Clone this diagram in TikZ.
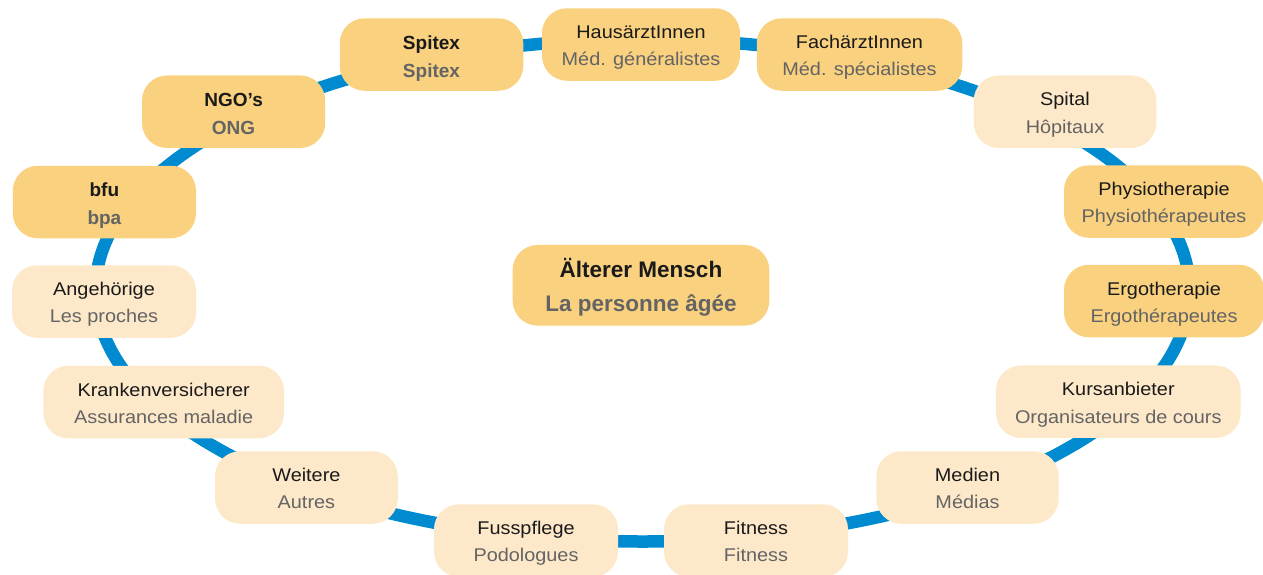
\documentclass[tikz,border=0pt]{standalone}
\usepackage{fontspec}
\setmainfont{Liberation Sans}
\newfontfamily\regf[FakeStretch=1.08]{Liberation Sans}
\usetikzlibrary{shapes.geometric}
\definecolor{ringblue}{RGB}{0,139,208}
\definecolor{darkfill}{RGB}{249,209,127}
\definecolor{lightfill}{RGB}{253,233,201}
\definecolor{txtone}{RGB}{26,26,26}
\definecolor{txttwo}{RGB}{100,100,100}
\tikzset{
  ringstyle/.style={ellipse, draw=ringblue, line width=12.5pt, inner sep=0pt, minimum width=1094pt, minimum height=502pt},
  boxbase/.style={rounded corners=25pt, inner sep=0pt, minimum height=72.5pt},
  darkbox/.style={boxbase, fill=darkfill},
  lightbox/.style={boxbase, fill=lightfill},
  regA/.style={anchor=base, inner sep=0pt, yshift=5.8pt, text=txtone, font=\regf\fontsize{18.4}{20}\selectfont},
  regB/.style={anchor=base, inner sep=0pt, yshift=-21.4pt, text=txttwo, font=\regf\fontsize{18.4}{20}\selectfont},
  boldA/.style={anchor=base, inner sep=0pt, yshift=5.2pt, text=txtone, font=\bfseries\fontsize{19}{21}\selectfont},
  boldB/.style={anchor=base, inner sep=0pt, yshift=-22.8pt, text=txttwo, font=\bfseries\fontsize{19}{21}\selectfont},
  mainA/.style={anchor=base, inner sep=0pt, yshift=7.6pt, text=txtone, font=\bfseries\fontsize{22.5}{25}\selectfont},
  mainB/.style={anchor=base, inner sep=0pt, yshift=-26.4pt, text=txttwo, font=\bfseries\fontsize{22.5}{25}\selectfont},
}
\newcommand\entry[8]{%
  \node[#5, minimum width=#4pt] (#1) at (#2,-#3) {};
  \node[#6A] (#1-a) at (#1.center) {#7};
  \node[#6B] (#1-b) at (#1.center) {#8};
}
\begin{document}
\begin{tikzpicture}[x=1pt,y=1pt]
\useasboundingbox (0,0) rectangle (1263,-574);
\node[ringstyle] (ring) at (642.5,-290.5) {};
\entry{spitex}{431.5}{54.5}{183.5}{darkbox}{bold}{Spitex}{Spitex}
\entry{haus}{641}{44.5}{198}{darkbox}{reg}{HausärztInnen}{Méd. généralistes}
\entry{fach}{859.5}{54.5}{205.5}{darkbox}{reg}{FachärztInnen}{Méd. spécialistes}
\entry{spital}{1065}{111.7}{182.5}{lightbox}{reg}{Spital}{Hôpitaux}
\entry{physio}{1164}{201.5}{200}{darkbox}{reg}{Physiotherapie}{Physiothérapeutes}
\entry{ergo}{1164}{301}{200}{darkbox}{reg}{Ergotherapie}{Ergothérapeutes}
\entry{kurs}{1118.3}{401.7}{244.7}{lightbox}{reg}{Kursanbieter}{Organisateurs de cours}
\entry{medien}{967.5}{487.5}{182.4}{lightbox}{reg}{Medien}{Médias}
\entry{fitness}{756}{540.5}{184}{lightbox}{reg}{Fitness}{Fitness}
\entry{fuss}{526}{540.5}{184}{lightbox}{reg}{Fusspflege}{Podologues}
\entry{weitere}{306.4}{487.5}{182.7}{lightbox}{reg}{Weitere}{Autres}
\entry{kranken}{163.7}{402}{240.6}{lightbox}{reg}{Krankenversicherer}{Assurances maladie}
\entry{angeh}{104}{301.5}{184}{lightbox}{reg}{Angehörige}{Les proches}
\entry{bfu}{104.4}{202}{183.2}{darkbox}{bold}{bfu}{bpa}
\entry{ngo}{233.6}{111.7}{183.2}{darkbox}{bold}{NGO’s}{ONG}
\node[darkbox, minimum width=256.6pt, minimum height=80.7pt] (main) at (641,-285.3) {};
\node[mainA] (main-a) at (main.center) {Älterer Mensch};
\node[mainB] (main-b) at (main.center) {La personne âgée};
\end{tikzpicture}
\end{document}
